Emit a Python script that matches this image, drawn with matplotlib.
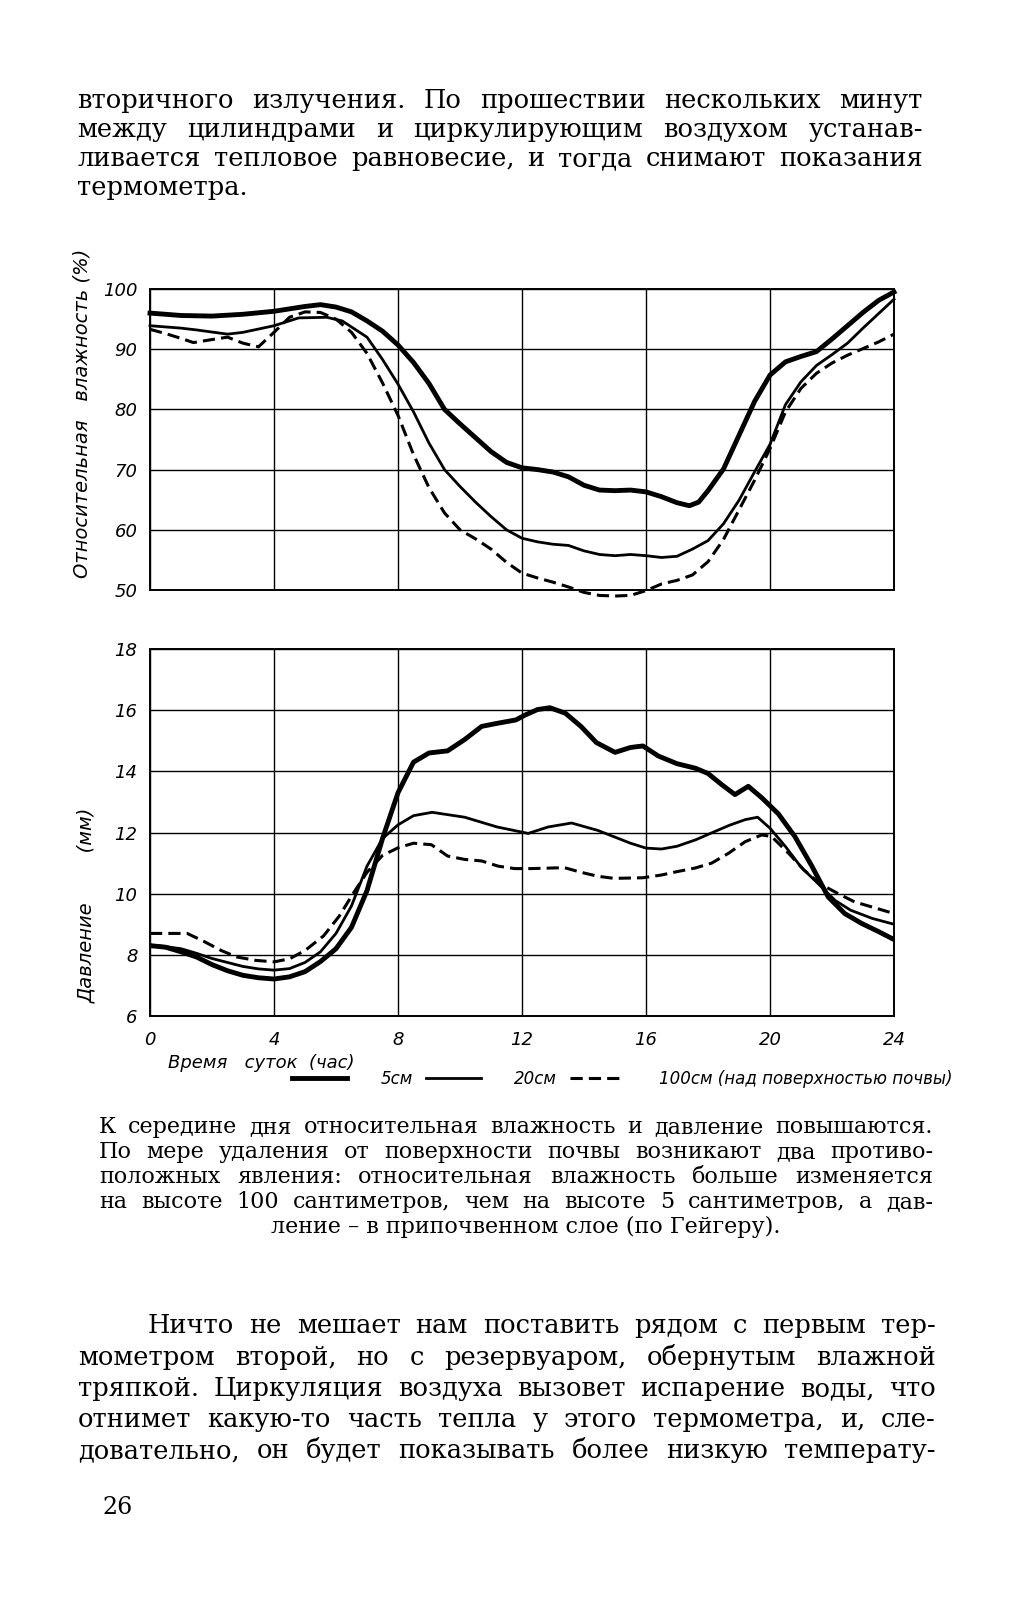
import matplotlib
matplotlib.use('Agg')
import matplotlib.pyplot as plt

# page size in pixels
W, H = 1018, 1600
SERIF = 'DejaVu Serif'
DRAW = ['Liberation Sans Narrow', 'DejaVu Sans']

# ---- humidity (%) ----
hum_h_5 = [0, 1, 2, 3, 4, 5, 5.5, 6, 6.5, 7, 7.5, 8, 8.5, 9, 9.5, 10, 10.5, 11, 11.5, 12,
           12.5, 13, 13.5, 14, 14.5, 15, 15.5, 16, 16.5, 17, 17.4, 17.7, 18, 18.5, 19, 19.5,
           20, 20.5, 21, 21.5, 22, 22.5, 23, 23.5, 24]
hum_5 = [96.0, 95.6, 95.5, 95.8, 96.3, 97.1, 97.4, 97.0, 96.2, 94.7, 93.0, 90.7, 87.8, 84.3,
         80.0, 77.6, 75.3, 73.0, 71.2, 70.3, 70.0, 69.6, 68.8, 67.4, 66.6, 66.5, 66.6, 66.3,
         65.5, 64.5, 64.0, 64.6, 66.5, 70.1, 75.7, 81.3, 85.7, 87.9, 88.8, 89.6, 91.7, 93.9,
         96.1, 98.1, 99.5]

hum_h_20 = [0, 1, 1.5, 2.5, 3, 4, 4.8, 5.7, 6.2, 7, 7.5, 8, 8.5, 9, 9.5, 10, 10.5, 11, 11.5,
            12, 12.5, 13, 13.5, 14, 14.5, 15, 15.5, 16, 16.5, 17, 17.5, 18, 18.5, 19, 19.5,
            20, 20.5, 21, 21.5, 22, 22.5, 23, 23.5, 24]
hum_20 = [93.9, 93.5, 93.2, 92.5, 92.8, 93.9, 95.2, 95.3, 94.7, 92.0, 88.3, 84.2, 79.6, 74.4,
          70.0, 67.2, 64.6, 62.2, 60.0, 58.6, 58.0, 57.6, 57.4, 56.5, 55.9, 55.7, 55.9, 55.7,
          55.4, 55.6, 56.8, 58.2, 61.0, 64.9, 69.6, 74.2, 80.8, 84.6, 87.3, 89.1, 91.0, 93.5,
          95.9, 98.3]

hum_h_100 = [0, 0.5, 1, 1.4, 2, 2.5, 3, 3.5, 4, 4.5, 5, 5.5, 6, 6.5, 7, 7.5, 8, 8.5, 9, 9.5,
             10, 10.5, 11, 11.5, 12, 12.5, 13, 13.5, 14, 14.5, 15, 15.5, 16, 16.5, 17, 17.5,
             18, 18.5, 19, 19.5, 20, 20.5, 21, 21.5, 22, 22.5, 23, 23.5, 24]
hum_100 = [93.3, 92.6, 91.8, 91.1, 91.6, 92.0, 91.0, 90.4, 92.8, 95.3, 96.2, 96.1, 95.0, 92.8,
           89.3, 84.4, 79.0, 72.5, 67.0, 62.8, 60.0, 58.5, 56.8, 54.6, 52.8, 52.0, 51.3, 50.5,
           49.6, 49.1, 49.0, 49.1, 49.9, 51.0, 51.6, 52.5, 54.7, 58.4, 63.3, 68.2, 73.5, 79.6,
           83.5, 86.0, 87.7, 89.0, 90.1, 91.2, 92.5]

# ---- vapour pressure (mm) ----
pr_h_5 = [0, 0.5, 1, 1.5, 2, 2.5, 3, 3.5, 4, 4.5, 5, 5.5, 6, 6.5, 7, 7.5, 8, 8.5, 9, 9.6,
          10.15, 10.7, 11.2, 11.8, 12.1, 12.5, 12.9, 13.4, 13.9, 14.4, 15.0, 15.5, 15.9, 16.4,
          17.0, 17.6, 18.0, 18.45, 18.87, 19.3, 19.73, 20.27, 20.8, 21.34, 21.88, 22.41,
          22.95, 23.5, 24]
pr_5 = [8.3, 8.25, 8.1, 7.93, 7.68, 7.48, 7.33, 7.25, 7.21, 7.28, 7.45, 7.78, 8.2, 8.9, 10.1,
        11.8, 13.3, 14.3, 14.6, 14.67, 15.04, 15.47, 15.57, 15.68, 15.84, 16.02, 16.08, 15.9,
        15.47, 14.94, 14.62, 14.78, 14.83, 14.5, 14.25, 14.1, 13.93, 13.56, 13.24, 13.51,
        13.14, 12.61, 11.87, 10.92, 9.89, 9.35, 9.03, 8.76, 8.5]

pr_h_20 = [0, 0.5, 1, 1.5, 2, 2.5, 3, 3.5, 4, 4.5, 5, 5.5, 6, 6.5, 7, 7.5, 8, 8.5, 9.1,
           10.15, 11.2, 12.2, 12.84, 13.6, 14.44, 15.5, 16, 16.5, 17, 17.6, 18.1, 18.7, 19.2,
           19.6, 20, 20.5, 21, 21.55, 22.1, 22.6, 23.3, 24]
pr_20 = [8.32, 8.27, 8.2, 8.05, 7.88, 7.75, 7.62, 7.54, 7.5, 7.55, 7.75, 8.1, 8.7, 9.6, 10.9,
         11.8, 12.25, 12.55, 12.66, 12.5, 12.18, 11.97, 12.18, 12.31, 12.07, 11.65, 11.49,
         11.46, 11.55, 11.76, 11.98, 12.24, 12.42, 12.5, 12.14, 11.54, 10.87, 10.33, 9.78,
         9.46, 9.19, 9.0]

pr_h_100 = [0, 0.5, 1.2, 1.7, 2.3, 2.8, 3.4, 4, 4.5, 5, 5.6, 6.1, 6.55, 7, 7.5, 8, 8.5, 9.08,
            9.6, 10.15, 10.7, 11.23, 11.76, 12.3, 13.37, 13.9, 14.44, 14.97, 15.9, 16.5, 17,
            17.59, 18.12, 18.66, 19.2, 19.73, 20.05, 20.6, 21.1, 21.6, 22.2, 22.73, 23.27, 24]
pr_100 = [8.7, 8.7, 8.7, 8.46, 8.14, 7.93, 7.82, 7.77, 7.87, 8.14, 8.62, 9.26, 10.0, 10.7,
          11.25, 11.5, 11.65, 11.6, 11.23, 11.12, 11.07, 10.9, 10.82, 10.82, 10.85, 10.7,
          10.57, 10.5, 10.52, 10.61, 10.72, 10.84, 11.0, 11.32, 11.7, 11.92, 11.87, 11.32,
          10.77, 10.33, 10.0, 9.73, 9.57, 9.35]

hour_ticks = [0, 4, 8, 12, 16, 20, 24]
hum_ticks = [50, 60, 70, 80, 90, 100]
pr_ticks = [6, 8, 10, 12, 14, 16, 18]
series_names = ['5см', '20см', '100см (над поверхностью почвы)']

top_text = ['вторичного излучения. По прошествии нескольких минут',
            'между цилиндрами и циркулирующим воздухом устанав-',
            'ливается тепловое равновесие, и тогда снимают показания',
            'термометра.']
caption = ['К середине дня относительная влажность и давление повышаются.',
           'По мере удаления от поверхности почвы возникают два противо-',
           'положных явления: относительная влажность больше изменяется',
           'на высоте 100 сантиметров, чем на высоте 5 сантиметров, а дав-',
           'ление – в припочвенном слое (по Гейгеру).']
bottom_text = ['Ничто не мешает нам поставить рядом с первым тер-',
               'мометром второй, но с резервуаром, обернутым влажной',
               'тряпкой. Циркуляция воздуха вызовет испарение воды, что',
               'отнимет какую-то часть тепла у этого термометра, и, сле-',
               'довательно, он будет показывать более низкую температу-']


def fx(px):
    return px / W


def fy(py):
    return 1 - py / H


fig = plt.figure(figsize=(W / 100, H / 100), dpi=100)
fig.patch.set_facecolor('white')
renderer = fig.canvas.get_renderer()

styles = [dict(lw=3.5, ls='-'), dict(lw=2.0, ls='-'), dict(lw=2.2, ls=(0, (4.0, 2.0)))]


def setup(ax, yticks, ylim):
    ax.set_xlim(0, 24)
    ax.set_ylim(*ylim)
    ax.set_xticks(hour_ticks)
    ax.set_yticks(yticks)
    ax.grid(True, color='black', lw=1.0)
    ax.set_axisbelow(True)
    for s in ax.spines.values():
        s.set_linewidth(1.4)
    ax.tick_params(length=0, pad=9)
    for lab in ax.get_yticklabels():
        lab.set_fontsize(13)
        lab.set_family(DRAW)
        lab.set_style('italic')


ax1 = fig.add_axes([fx(150), fy(590), fx(894) - fx(150), (590 - 289) / H])
setup(ax1, hum_ticks, (50, 100))
ax1.set_xticklabels([])
for xs, ys, st in zip([hum_h_5, hum_h_20, hum_h_100], [hum_5, hum_20, hum_100], styles):
    ax1.plot(xs, ys, color='black', clip_on=False, solid_joinstyle='round', **st)
ax1.set_ylabel('Относительная   влажность (%)', fontsize=14, family=DRAW, style='italic')
ax1.yaxis.set_label_coords((92 - 150) / 744, (590 - 413) / 301)

ax2 = fig.add_axes([fx(150), fy(1016), fx(894) - fx(150), (1016 - 649) / H])
setup(ax2, pr_ticks, (6, 18))
ax2.tick_params(axis='x', pad=11)
ax2.set_xticklabels([str(h) for h in hour_ticks], fontsize=13, family=DRAW, style='italic')
lines = []
for xs, ys, st in zip([pr_h_5, pr_h_20, pr_h_100], [pr_5, pr_20, pr_100], styles):
    ln, = ax2.plot(xs, ys, color='black', solid_joinstyle='round', **st)
    lines.append(ln)
ax2.set_ylabel('Давление        (мм)', fontsize=14, family=DRAW, style='italic')
ax2.yaxis.set_label_coords((96 - 150) / 744, (1016 - 905) / 367)

fig.text(fx(168), fy(1063), 'Время   суток  (час)', fontsize=13, family=DRAW,
         style='italic', va='center')
fig.legend(lines, series_names, loc='center left', bbox_to_anchor=(fx(292), fy(1079)),
           ncol=3, frameon=False, handlelength=3.3, handletextpad=2.0, columnspacing=0.8,
           borderaxespad=0, borderpad=0,
           prop={'family': DRAW, 'style': 'italic', 'size': 12})


def put_line(text, x0, x1, yb, size, mode='justify', xc=None):
    kw = dict(fontsize=size, family=SERIF, va='baseline')
    if mode == 'left':
        fig.text(fx(x0), fy(yb), text, ha='left', **kw)
        return
    if mode == 'center':
        fig.text(fx(xc), fy(yb), text, ha='center', **kw)
        return
    words = text.split()
    items = [fig.text(0, fy(yb), w, ha='left', **kw) for w in words]
    widths = [t.get_window_extent(renderer=renderer).width for t in items]
    gap = (x1 - x0 - sum(widths)) / (len(words) - 1)
    x = x0
    for t, w in zip(items, widths):
        t.set_x(fx(x))
        x += w + gap


for i, (line, yb) in enumerate(zip(top_text, [108, 137, 166, 195])):
    put_line(line, 77, 923, yb, 18.5, 'left' if i == 3 else 'justify')

for i, (line, yb) in enumerate(zip(caption, [1133, 1158, 1183, 1208, 1233])):
    put_line(line, 99, 933, yb, 16, 'center' if i == 4 else 'justify', xc=526)

for i, (line, yb) in enumerate(zip(bottom_text, [1333, 1365, 1396, 1427, 1458])):
    put_line(line, 148 if i == 0 else 78, 936, yb, 18.5)

fig.text(fx(102), fy(1514), '26', fontsize=17, family=SERIF, va='baseline')

fig.savefig('out.png', dpi=100, facecolor='white')
